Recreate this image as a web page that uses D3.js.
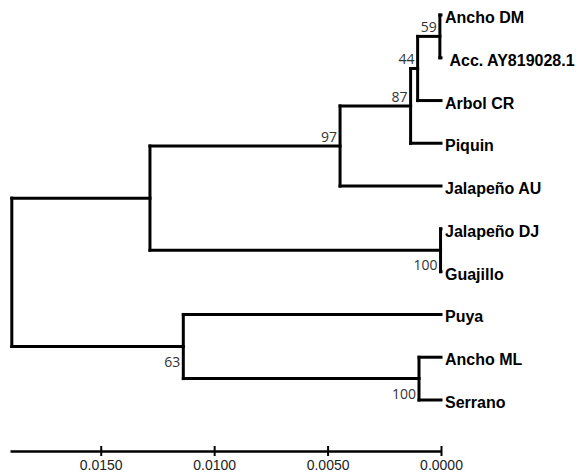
<!DOCTYPE html>
<html>
<head>
<meta charset="utf-8">
<script src="https://cdn.jsdelivr.net/npm/d3@7"></script>
<style>
  body { margin: 0; background: #fff; }
  svg { display: block; }
  .branch { stroke: #000; stroke-width: 3; fill: none; stroke-linecap: square; }
  .leaf { font-family: "Liberation Sans", Arial, sans-serif; font-weight: bold; font-size: 16px; fill: #000; }
  .boot { font-family: "Open Sans", sans-serif; font-size: 14px; fill: #333; }
</style>
</head>
<body>
<svg id="chart" width="577" height="476"></svg>
<script>
// tips, top to bottom
const leaves = ["Ancho DM", "\u00a0Acc. AY819028.1", "Arbol CR", "Piquin", "Jalapeño AU",
                "Jalapeño DJ", "Guajillo", "Puya", "Ancho ML", "Serrano"];

// internal nodes: children, height (distance), bootstrap
const nodeIds = ["n59", "n44", "n87", "n97", "nDJ", "nUp", "nML", "n63", "root"];
const nodeChildren = [
  ["Ancho DM", "\u00a0Acc. AY819028.1"],
  ["n59", "Arbol CR"],
  ["n44", "Piquin"],
  ["n87", "Jalapeño AU"],
  ["Jalapeño DJ", "Guajillo"],
  ["n97", "nDJ"],
  ["Ancho ML", "Serrano"],
  ["Puya", "nML"],
  ["nUp", "n63"]
];
const nodeHeights = [0.00005, 0.00103, 0.00134, 0.00445, 0.00002, 0.01283, 0.00097, 0.01136, 0.01892];
const bootstrap = [59, 44, 87, 97, 100, null, 100, 63, null];

const axisTicks = [0.0150, 0.0100, 0.0050, 0.0000];

const svg = d3.select("#chart");

const x = d3.scaleLinear().domain([0, 0.0190]).range([441, 10]);
const y = d3.scalePoint().domain(leaves).range([15, 400]);

// build tree
function build(id) {
  const i = nodeIds.indexOf(id);
  if (i < 0) return { name: id, height: 0 };
  return { name: id, height: nodeHeights[i], boot: bootstrap[i], children: nodeChildren[i].map(build) };
}
const root = d3.hierarchy(build("root"));

root.eachAfter(d => {
  d.px = x(d.data.height);
  if (!d.children) d.py = y(d.data.name);
  else d.py = (d.children[0].py + d.children[d.children.length - 1].py) / 2;
});

const g = svg.append("g");

// horizontal branches
g.selectAll(".h")
  .data(root.descendants().filter(d => d.parent))
  .enter().append("line")
  .attr("class", "branch")
  .attr("x1", d => d.parent.px)
  .attr("x2", d => d.px)
  .attr("y1", d => d.py)
  .attr("y2", d => d.py);

// vertical connectors
g.selectAll(".v")
  .data(root.descendants().filter(d => d.children))
  .enter().append("line")
  .attr("class", "branch")
  .attr("x1", d => d.px)
  .attr("x2", d => d.px)
  .attr("y1", d => d.children[0].py)
  .attr("y2", d => d.children[d.children.length - 1].py);

// tip labels
g.selectAll(".leaf")
  .data(root.leaves())
  .enter().append("text")
  .attr("class", "leaf")
  .attr("x", d => d.px + 4)
  .attr("y", d => d.py)
  .attr("dy", "0.5em")
  .text(d => d.data.name);

// bootstrap values: first child above the branch, second child below
g.selectAll(".boot")
  .data(root.descendants().filter(d => d.data.boot != null))
  .enter().append("text")
  .attr("class", "boot")
  .attr("text-anchor", "end")
  .attr("x", d => d.px - 3)
  .attr("y", d => d.parent && d.parent.children[0] === d ? d.py - 4 : d.py + 20)
  .text(d => d.data.boot);

// distance axis
const axis = d3.axisBottom(x)
  .tickValues(axisTicks)
  .tickFormat(d3.format(".4f"))
  .tickSizeOuter(0);

const ax = svg.append("g")
  .attr("transform", "translate(0,451)")
  .call(axis);

ax.select(".domain").attr("stroke", "#000").attr("stroke-width", 2.5);
ax.selectAll(".tick line").attr("y1", -5).attr("y2", 5).attr("stroke-width", 2);
ax.selectAll(".tick text")
  .attr("y", 19)
  .attr("dy", 0)
  .attr("fill", "#222")
  .style("font-family", "'Liberation Sans', Arial, sans-serif")
  .style("font-size", "14px");
</script>
</body>
</html>
